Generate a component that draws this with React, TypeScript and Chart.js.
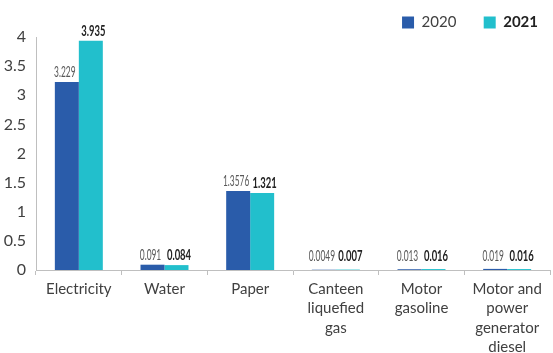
import React, { useEffect, useRef } from "react";
import { Chart, registerables } from "chart.js";

Chart.register(...registerables);

const categories: string[][] = [
  ["Electricity"],
  ["Water"],
  ["Paper"],
  ["Canteen", "liquefied", "gas"],
  ["Motor", "gasoline"],
  ["Motor and", "power", "generator", "diesel"],
];
const seriesNames = ["2020", "2021"];
const values2020 = [3.229, 0.091, 1.3576, 0.0049, 0.013, 0.019];
const values2021 = [3.935, 0.084, 1.321, 0.007, 0.016, 0.016];
const valueLabels2020 = ["3.229", "0.091", "1.3576", "0.0049", "0.013", "0.019"];
const valueLabels2021 = ["3.935", "0.084", "1.321", "0.007", "0.016", "0.016"];
const yMin = 0;
const yMax = 4;
const yStep = 0.5;

const COLOR_2020 = "#2a5caa";
const COLOR_2021 = "#22bfcc";
const TEXT = "#404040";
const AXIS = "#bfbfbf";
const FONT = "Lato, 'Open Sans', sans-serif";

const valueLabelPlugin = {
  id: "valueLabels",
  afterDatasetsDraw(chart: any) {
    const ctx = chart.ctx;
    const base = chart.scales.y.getPixelForValue(0);
    const sets = [
      { labels: valueLabels2020, bold: false, color: "#595959", sx: 0.56, dx: -2 },
      { labels: valueLabels2021, bold: true, color: "#222222", sx: 0.63, dx: 2.5 },
    ];
    sets.forEach((s, di) => {
      const meta = chart.getDatasetMeta(di);
      meta.data.forEach((el: any, i: number) => {
        const y = Math.min(el.y - 5, base - 9);
        ctx.save();
        ctx.translate(el.x + s.dx, y);
        ctx.scale(s.sx, 1);
        ctx.font = `${s.bold ? "bold " : ""}15px ${FONT}`;
        ctx.fillStyle = s.color;
        ctx.textAlign = "center";
        ctx.textBaseline = "alphabetic";
        ctx.fillText(s.labels[i], 0, 0);
        ctx.restore();
      });
    });
  },
};

const LEGEND_FONT = 15;

const boldLegendPlugin = {
  id: "boldLegend",
  afterDraw(chart: any) {
    const legend = chart.legend;
    if (!legend || !legend.legendHitBoxes || legend.legendHitBoxes.length < 2) return;
    const hb = legend.legendHitBoxes[1];
    const ctx = chart.ctx;
    ctx.save();
    ctx.font = `bold ${LEGEND_FONT}px ${FONT}`;
    ctx.fillStyle = "#222222";
    ctx.textAlign = "left";
    ctx.textBaseline = "middle";
    ctx.fillText(seriesNames[1], hb.left + 12 + LEGEND_FONT / 2, hb.top + hb.height / 2);
    ctx.restore();
  },
};

export default function App() {
  const ref = useRef<HTMLCanvasElement | null>(null);
  useEffect(() => {
    if (!ref.current) return;
    const chart = new Chart(ref.current, {
      type: "bar",
      data: {
        labels: categories,
        datasets: [
          {
            label: seriesNames[0],
            data: values2020,
            backgroundColor: COLOR_2020,
            categoryPercentage: 0.56,
            barPercentage: 1.0,
          },
          {
            label: seriesNames[1],
            data: values2021,
            backgroundColor: COLOR_2021,
            categoryPercentage: 0.56,
            barPercentage: 1.0,
          },
        ],
      },
      options: {
        responsive: false,
        animation: false,
        layout: { padding: { top: 3, right: 3, left: 0, bottom: 0 } },
        plugins: {
          tooltip: { enabled: false },
          legend: {
            position: "top",
            align: "end",
            maxHeight: 34,
            labels: {
              boxWidth: 12,
              boxHeight: 12,
              padding: 12,
              color: TEXT,
              font: { family: FONT, size: LEGEND_FONT },
              generateLabels: (c: any) => {
                const items = (Chart as any).defaults.plugins.legend.labels.generateLabels(c);
                items.forEach((it: any) => {
                  it.lineWidth = 0;
                });
                items[0].text = items[0].text + "    ";
                items[1].fontColor = "rgba(0,0,0,0)";
                return items;
              },
            },
          },
        },
        scales: {
          x: {
            afterFit: (s: any) => {
              s.height = 83;
            },
            grid: {
              display: true,
              drawOnChartArea: false,
              drawTicks: true,
              tickLength: 5,
              color: AXIS,
              offset: true,
            },
            border: { display: true, color: AXIS },
            ticks: {
              color: TEXT,
              font: { family: FONT, size: 15, lineHeight: 1.3 },
              padding: 4,
              maxRotation: 0,
              autoSkip: false,
            },
          },
          y: {
            min: yMin,
            max: yMax,
            afterFit: (s: any) => {
              s.width = 36;
            },
            grid: { display: false, drawTicks: false },
            border: { display: true, color: AXIS },
            ticks: {
              stepSize: yStep,
              color: TEXT,
              font: { family: FONT, size: 16 },
              padding: 10,
              callback: (v: any) => String(Number(v)),
            },
          },
        },
      },
      plugins: [valueLabelPlugin, boldLegendPlugin],
    } as any);
    return () => chart.destroy();
  }, []);
  return (
    <div style={{ position: "absolute", left: 0, top: 0, width: 553, height: 353, background: "#fff" }}>
      <canvas ref={ref} width={553} height={353} style={{ display: "block" }} />
    </div>
  );
}
